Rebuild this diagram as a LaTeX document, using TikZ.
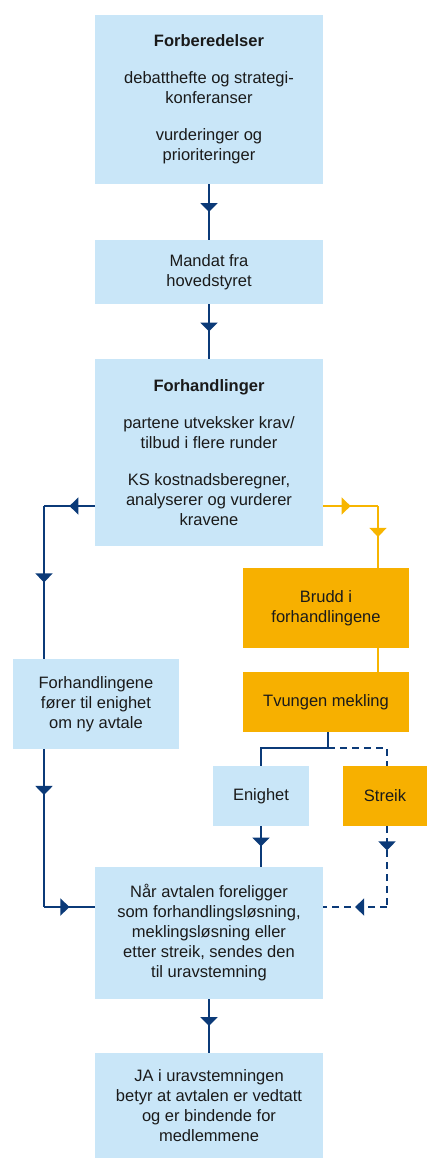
\documentclass[tikz,border=0pt]{standalone}
\usepackage{fontspec}
\setmainfont{Liberation Sans}
\usetikzlibrary{arrows.meta,decorations.markings}
\definecolor{lblue}{HTML}{C9E6F8}
\definecolor{orng}{HTML}{F7B000}
\definecolor{dblue}{HTML}{0B3A78}
\definecolor{ylw}{HTML}{F7B500}
\definecolor{txt}{HTML}{1A1A1A}
\tikzset{
  bx/.style={fill=lblue, inner sep=0pt, align=center, text=txt,
    font=\fontsize{16.5}{20}\selectfont},
  obx/.style={bx, fill=orng},
  conn/.style={line width=2pt, draw=dblue, color=dblue},
  yconn/.style={line width=2pt, draw=ylw, color=ylw},
  dsh/.style={dash pattern=on 7pt off 5pt},
  marr/.style={postaction={decorate,decoration={markings,
    mark=at position #1 with {\arrow{Triangle[length=9pt,width=17pt]}}}}},
  marr/.default=0.5
}
\begin{document}
\begin{tikzpicture}[x=1pt,y=-1pt]
\useasboundingbox (0,0) rectangle (427,1160);
\node[bx, minimum width=228pt, minimum height=169pt] (forb) at (209,99.5)
  {\textbf{Forberedelser}\\[17pt]debatthefte og strategi-\\konferanser\\[17pt]vurderinger og\\prioriteringer};
\node[bx, minimum width=228pt, minimum height=64pt] (mandat) at (209,272)
  {Mandat fra\\hovedstyret};
\node[bx, minimum width=228pt, minimum height=187pt] (forh) at (209,452.5)
  {\textbf{Forhandlinger}\\[17pt]partene utveksker krav/\\tilbud i flere runder\\[17pt]KS kostnadsberegner,\\analyserer og vurderer\\kravene};
\node[bx, minimum width=166pt, minimum height=90pt] (enigl) at (96,704)
  {Forhandlingene\\fører til enighet\\om ny avtale};
\node[obx, minimum width=166pt, minimum height=80pt] (brudd) at (326,608)
  {Brudd i\\forhandlingene};
\node[obx, minimum width=166pt, minimum height=60pt] (tvungen) at (326,702)
  {Tvungen mekling};
\node[bx, minimum width=96pt, minimum height=60pt] (enighet) at (261,796)
  {Enighet};
\node[obx, minimum width=84pt, minimum height=60pt] (streik) at (385,796)
  {Streik};
\node[bx, minimum width=228pt, minimum height=132pt] (naar) at (209,933)
  {Når avtalen foreligger\\som forhandlingsløsning,\\meklingsløsning eller\\etter streik, sendes den\\til uravstemning};
\node[bx, minimum width=228pt, minimum height=105pt] (ja) at (209,1105.5)
  {JA i uravstemningen\\betyr at avtalen er vedtatt\\og er bindende for\\medlemmene};
\coordinate (c1) at (44,506);
\coordinate (c2) at (378,506);
\coordinate (c3) at (44,907);
\coordinate (c4) at (328,748);
\coordinate (c5) at (387,748);
\coordinate (c6) at (387,907);
\draw[conn,marr] (forb.south) -- (mandat.north);
\draw[conn,marr] (mandat.south) -- (forh.north);
\draw[conn,marr] (forh.west |- c1) -- (c1);
\draw[conn,marr] (c1) -- (c1 |- enigl.north);
\draw[conn,marr=0.29] (c1 |- enigl.south) -- (c3);
\draw[conn,marr] (c3) -- (naar.west |- c3);
\draw[yconn,marr] (forh.east |- c2) -- (c2);
\draw[yconn,marr] (c2) -- (c2 |- brudd.north);
\draw[yconn] (c2 |- brudd.south) -- (c2 |- tvungen.north);
\draw[conn] (c4 |- tvungen.south) -- (c4) -- (enighet.north |- c4) -- (enighet.north);
\draw[conn,dsh] (c4) -- (c5) -- (c5 |- streik.north);
\draw[conn,marr] (enighet.south) -- (enighet.south |- naar.north);
\draw[conn,dsh,marr=0.3] (c5 |- streik.south) -- (c6);
\draw[conn,dsh,marr] (c6) -- (naar.east |- c6);
\draw[conn,marr] (naar.south) -- (ja.north);
\end{tikzpicture}
\end{document}
